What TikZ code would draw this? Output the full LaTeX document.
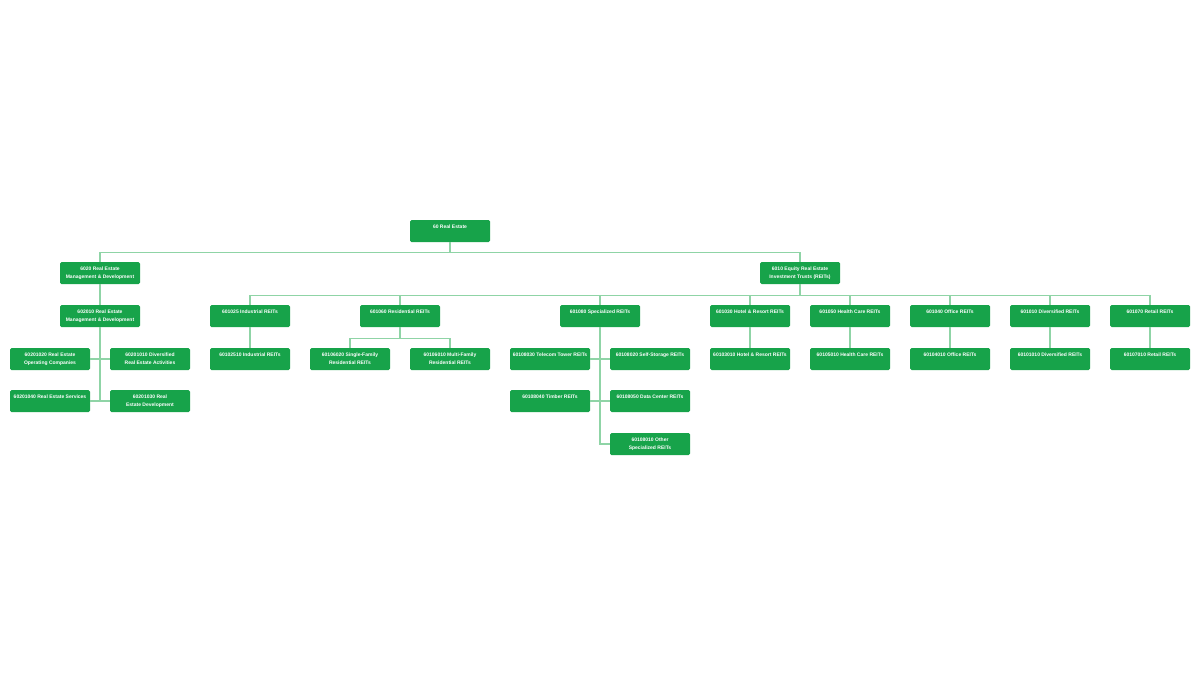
\documentclass[tikz,border=0pt]{standalone}
\usepackage{fontspec}
\setmainfont{Liberation Sans}
\definecolor{boxgreen}{HTML}{17A34A}
\definecolor{linegreen}{HTML}{8FD4A6}
\newcommand{\boxtext}[1]{\parbox[c][22pt][t]{80pt}{\centering\fontsize{5}{8}\selectfont\bfseries\color{white}\rule{0pt}{8.6pt}#1}}
\tikzset{
  gbox/.style={fill=boxgreen, draw=none, rounded corners=1.5pt, inner sep=0pt, minimum width=80pt, minimum height=22pt},
  conn/.style={draw=linegreen, line width=1.2pt}
}
\begin{document}
\begin{tikzpicture}[x=1pt,y=-1pt]
\useasboundingbox (0,0) rectangle (1200,675);
% level 1
\node[gbox] (root) at (450,231) {\boxtext{60 Real Estate}};
% level 2
\node[gbox] (n6020) at (100,273) {\boxtext{6020 Real Estate\\Management \& Development}};
\node[gbox] (n6010) at (800,273) {\boxtext{6010 Equity Real Estate\\Investment Trusts (REITs)}};
% level 3
\node[gbox] (n602010) at (100,316) {\boxtext{602010 Real Estate\\Management \& Development}};
\node[gbox] (n601025) at (250,316) {\boxtext{601025 Industrial REITs}};
\node[gbox] (n601060) at (400,316) {\boxtext{601060 Residential REITs}};
\node[gbox] (n601080) at (600,316) {\boxtext{601080 Specialized REITs}};
\node[gbox] (n601030) at (750,316) {\boxtext{601030 Hotel \& Resort REITs}};
\node[gbox] (n601050) at (850,316) {\boxtext{601050 Health Care REITs}};
\node[gbox] (n601040) at (950,316) {\boxtext{601040 Office REITs}};
\node[gbox] (n601010) at (1050,316) {\boxtext{601010 Diversified REITs}};
\node[gbox] (n601070) at (1150,316) {\boxtext{601070 Retail REITs}};
% level 4
\node[gbox] (a60201020) at (50,359) {\boxtext{60201020 Real Estate\\Operating Companies}};
\node[gbox] (a60201010) at (150,359) {\boxtext{60201010 Diversified\\Real Estate Activities}};
\node[gbox] (a60102510) at (250,359) {\boxtext{60102510 Industrial REITs}};
\node[gbox] (a60106020) at (350,359) {\boxtext{60106020 Single-Family\\Residential REITs}};
\node[gbox] (a60106010) at (450,359) {\boxtext{60106010 Multi-Family\\Residential REITs}};
\node[gbox] (a60108030) at (550,359) {\boxtext{60108030 Telecom Tower REITs}};
\node[gbox] (a60108020) at (650,359) {\boxtext{60108020 Self-Storage REITs}};
\node[gbox] (a60103010) at (750,359) {\boxtext{60103010 Hotel \& Resort REITs}};
\node[gbox] (a60105010) at (850,359) {\boxtext{60105010 Health Care REITs}};
\node[gbox] (a60104010) at (950,359) {\boxtext{60104010 Office REITs}};
\node[gbox] (a60101010) at (1050,359) {\boxtext{60101010 Diversified REITs}};
\node[gbox] (a60107010) at (1150,359) {\boxtext{60107010 Retail REITs}};
% level 5
\node[gbox] (a60201040) at (50,401) {\boxtext{60201040 Real Estate Services}};
\node[gbox] (a60201030) at (150,401) {\boxtext{60201030 Real\\Estate Development}};
\node[gbox] (a60108040) at (550,401) {\boxtext{60108040 Timber REITs}};
\node[gbox] (a60108050) at (650,401) {\boxtext{60108050 Data Center REITs}};
% level 6
\node[gbox] (a60108010) at (650,444) {\boxtext{60108010 Other\\Specialized REITs}};
% connectors
\draw[conn] (root.south) -- ++(0,10) -| (n6020.north);
\draw[conn] (root.south) -- ++(0,10) -| (n6010.north);
\draw[conn] (n6020.south) -- (n602010.north);
\foreach \c in {n601025,n601060,n601080,n601030,n601050,n601040,n601010,n601070}
  \draw[conn] (n6010.south) -- ++(0,11) -| (\c.north);
\draw[conn] (n602010.south) |- (a60201020.east);
\draw[conn] (n602010.south) |- (a60201010.west);
\draw[conn] (n602010.south) |- (a60201040.east);
\draw[conn] (n602010.south) |- (a60201030.west);
\draw[conn] (n601025.south) -- (a60102510.north);
\draw[conn] (n601060.south) -- ++(0,11) -| (a60106020.north);
\draw[conn] (n601060.south) -- ++(0,11) -| (a60106010.north);
\draw[conn] (n601080.south) |- (a60108030.east);
\draw[conn] (n601080.south) |- (a60108020.west);
\draw[conn] (n601080.south) |- (a60108040.east);
\draw[conn] (n601080.south) |- (a60108050.west);
\draw[conn] (n601080.south) |- (a60108010.west);
\draw[conn] (n601030.south) -- (a60103010.north);
\draw[conn] (n601050.south) -- (a60105010.north);
\draw[conn] (n601040.south) -- (a60104010.north);
\draw[conn] (n601010.south) -- (a60101010.north);
\draw[conn] (n601070.south) -- (a60107010.north);
\end{tikzpicture}
\end{document}
